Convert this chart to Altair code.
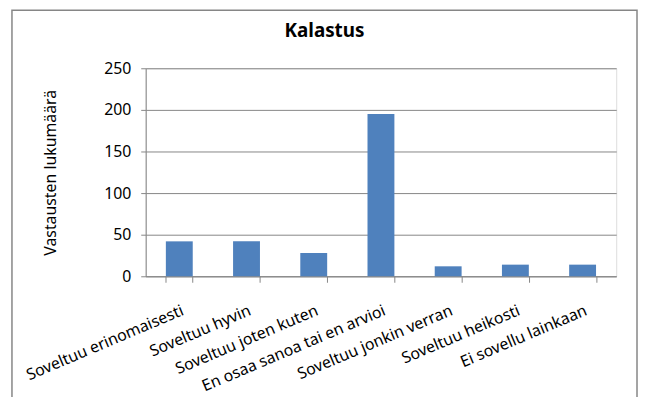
import altair as alt
import pandas as pd

categories = [
    "Soveltuu erinomaisesti",
    "Soveltuu hyvin",
    "Soveltuu joten kuten",
    "En osaa sanoa tai en arvioi",
    "Soveltuu jonkin verran",
    "Soveltuu heikosti",
    "Ei sovellu lainkaan",
]
values = [42, 42, 28, 195, 12, 14, 14]
y_ticks = [0, 50, 100, 150, 200, 250]

df = pd.DataFrame({"kategoria": categories, "lukumaara": values})

FONT = "Noto Sans"
GRAY = "#868686"

bars = alt.Chart(df).mark_bar(color="#4f81bd").encode(
    x=alt.X(
        "kategoria:N",
        sort=categories,
        scale=alt.Scale(paddingInner=0.6, paddingOuter=0.3),
        axis=alt.Axis(
            title=None,
            labelAngle=-23,
            labelAlign="right",
            labelBaseline="top",
            labelPadding=20,
            labelLimit=0,
            labelFont=FONT,
            labelFontSize=16,
            labelColor="black",
            tickBand="extent",
            tickSize=6,
            tickColor=GRAY,
            domainColor=GRAY,
            grid=False,
        ),
    ),
    y=alt.Y(
        "lukumaara:Q",
        scale=alt.Scale(domain=[0, 250]),
        axis=alt.Axis(
            values=y_ticks,
            title="Vastausten lukumäärä",
            titleFont=FONT,
            titleFontSize=16,
            titleFontWeight="normal",
            titleColor="black",
            titlePadding=46,
            labelFont=FONT,
            labelFontSize=16,
            labelColor="black",
            labelPadding=10,
            tickSize=5,
            tickColor=GRAY,
            domainColor=GRAY,
            gridColor=GRAY,
        ),
    ),
)

border = alt.Chart(pd.DataFrame({"a": [0]})).mark_rect(
    fill=None, stroke=GRAY, strokeWidth=1.5, clip=False
).encode(
    x=alt.value(-135),
    x2=alt.value(496),
    y=alt.value(-58.5),
    y2=alt.value(420),
)

chart = alt.layer(border, bars).properties(
    width=475,
    height=210,
    title=alt.TitleParams(
        "Kalastus",
        font=FONT,
        fontSize=19,
        fontWeight="bold",
        color="black",
        anchor="middle",
        dx=-57,
        offset=-32,
    ),
    autosize=alt.AutoSizeParams(type="none"),
    padding={"left": 139, "top": 59, "right": 22, "bottom": 120},
).configure_view(stroke=None).configure(background="white")

chart.save("out.html", embed_options={"renderer": "svg", "actions": False})
